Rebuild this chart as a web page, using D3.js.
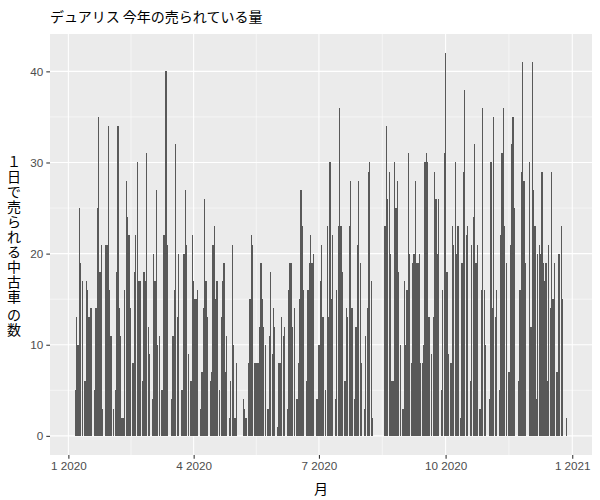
<!DOCTYPE html>
<html><head><meta charset="utf-8">
<script src="https://cdn.jsdelivr.net/npm/d3@7"></script>
<style>
body{margin:0;background:#fff}
svg text{font-family:"Liberation Sans",Arial,"Noto Sans CJK JP",sans-serif}
.cjk{font-family:"Noto Sans CJK JP","Noto Sans CJK SC",sans-serif}
</style>
</head><body>
<svg id="chart" width="600" height="500"></svg>
<script>
// ---- data (daily sales, one value per day; null = no bar) ----
const startDate = "2020-01-01";
const salesJanMar = [
  null,null,null,null,null,5,13,10,25,19,
  17,null,6,17,16,13,14,14,null,5,
  14,25,35,18,21,3,null,21,21,34,
  16,11,null,3,5,18,34,14,11,2,
  2,16,28,24,22,14,null,8,18,22,
  30,17,17,null,6,18,17,31,12,9,
  null,4,20,17,27,10,11,null,5,22,
  22,40,21,null,null,4,11,16,32,13,
  20,null,5,5,20,27,21,9,null,6,
  22];
const salesAprJun = [
  17,15,15,16,null,3,7,14,26,17,
  13,null,6,7,21,23,15,17,null,5,
  13,17,19,7,11,null,2,6,21,10,
  2,8,null,null,null,null,4,3,2,null,
  8,15,22,21,8,8,8,8,12,19,
  15,12,10,null,3,11,18,9,14,12,
  null,1,8,8,13,11,12,null,3,16,
  19,19,12,14,null,4,8,15,27,23,
  16,null,6,16,19,22,19,20,null,4,
  4];
const salesJulSep = [
  10,17,21,13,null,5,23,13,30,15,
  22,null,4,16,23,36,23,18,null,6,
  14,13,23,28,14,null,4,12,21,28,
  19,8,null,3,11,14,29,30,17,2,
  null,null,null,null,null,null,null,null,23,34,
  26,29,20,6,6,30,25,28,18,10,
  null,3,17,10,16,31,20,8,19,20,
  28,19,19,20,8,8,10,30,31,30,
  13,null,9,13,29,26,20,26,null,5,
  16,31];
const salesOctDec = [
  42,18,9,null,8,23,21,30,20,23,
  null,2,19,29,38,22,23,null,6,21,
  24,32,19,21,null,3,16,36,16,10,
  null,null,4,30,14,35,13,16,null,5,
  22,31,36,23,19,null,7,21,32,35,
  25,null,null,6,16,29,41,28,19,null,
  null,30,12,41,27,23,4,20,21,20,
  29,19,17,19,6,21,14,29,15,19,
  null,7,20,20,23,15,null,null,2,null,
  null,null];

const xTickDates  = ["2020-01-01","2020-04-01","2020-07-01","2020-10-01","2021-01-01"];
const xTickLabels = ["1 2020","4 2020","7 2020","10 2020","1 2021"];
const yTickValues = [0,10,20,30,40];
const titleText = "デュアリス 今年の売られている量";
const yTitleText = "１日で売られる中古車 の数";
const xTitleText = "月";

// ---- build ----
const allSales = [].concat(salesJanMar, salesAprJun, salesJulSep, salesOctDec);
if (allSales.length !== 366) throw new Error("length " + allSales.length);
const DAY = 86400000;
const t0 = Date.parse(startDate + "T00:00:00Z");
const data = allSales.map((v,i)=>({date:new Date(t0 + i*DAY), value:v})).filter(d=>d.value!==null);

const panel = {left:50, right:592, top:34, bottom:455};
const svg = d3.select("#chart");

// ggplot-like expansion (5%) of data range incl. bar width 0.9 day
const barW = 0.9*DAY;
const dMin = d3.min(data,d=>+d.date) - barW/2, dMax = d3.max(data,d=>+d.date) + barW/2;
const padX = (dMax-dMin)*0.05;
const x = d3.scaleUtc().domain([new Date(dMin-padX), new Date(dMax+padX)]).range([panel.left, panel.right]);
const yMaxV = d3.max(data,d=>d.value);
const y = d3.scaleLinear().domain([-yMaxV*0.05, yMaxV*1.05]).range([panel.bottom, panel.top]);

// panel background
svg.append("rect").attr("x",panel.left).attr("y",panel.top)
  .attr("width",panel.right-panel.left).attr("height",panel.bottom-panel.top).attr("fill","#EBEBEB");

// gridlines
const xTicks = xTickDates.map(s=>new Date(s+"T00:00:00Z"));
const xMinor = d3.pairs(xTicks).map(([a,b])=>new Date((+a + +b)/2));
const yMinor = d3.pairs(yTickValues).map(([a,b])=>(a+b)/2);
const g = svg.append("g");
yMinor.forEach(v=>g.append("line").attr("x1",panel.left).attr("x2",panel.right).attr("y1",y(v)).attr("y2",y(v)).attr("stroke","#fff").attr("stroke-width",0.53));
xMinor.forEach(v=>g.append("line").attr("y1",panel.top).attr("y2",panel.bottom).attr("x1",x(v)).attr("x2",x(v)).attr("stroke","#fff").attr("stroke-width",0.53));
yTickValues.forEach(v=>g.append("line").attr("x1",panel.left).attr("x2",panel.right).attr("y1",y(v)).attr("y2",y(v)).attr("stroke","#fff").attr("stroke-width",1.07));
xTicks.forEach(v=>g.append("line").attr("y1",panel.top).attr("y2",panel.bottom).attr("x1",x(v)).attr("x2",x(v)).attr("stroke","#fff").attr("stroke-width",1.07));

// bars
svg.append("g").attr("shape-rendering","crispEdges").selectAll("rect").data(data).join("rect")
  .attr("x",d=>x(new Date(+d.date - barW/2)))
  .attr("width",d=>Math.max(1, x(new Date(+d.date + barW/2)) - x(new Date(+d.date - barW/2))))
  .attr("y",d=>y(d.value))
  .attr("height",d=>y(0)-y(d.value))
  .attr("fill","#595959");

// axes
const xAxis = d3.axisBottom(x).tickValues(xTicks).tickFormat((d,i)=>xTickLabels[i]).tickSize(3.7).tickPadding(3);
const yAxis = d3.axisLeft(y).tickValues(yTickValues).tickSize(3.7).tickPadding(3);
const gx = svg.append("g").attr("transform",`translate(0,${panel.bottom})`).call(xAxis);
const gy = svg.append("g").attr("transform",`translate(${panel.left},0)`).call(yAxis);
[gx,gy].forEach(a=>{
  a.select(".domain").remove();
  a.selectAll(".tick line").attr("stroke","#333333").attr("stroke-width",1.07);
  a.selectAll(".tick text").attr("fill","#4D4D4D").style("font-size","11.7px")
   .style("font-family","'Liberation Sans',Arial,sans-serif");
});

// title
svg.append("text").attr("class","cjk").attr("x",panel.left).attr("y",22)
  .attr("fill","#000").style("font-size","14px").text(titleText);

// x title
svg.append("text").attr("class","cjk").attr("x",(panel.left+panel.right)/2).attr("y",494)
  .attr("text-anchor","middle").attr("fill","#000").style("font-size","14px").text(xTitleText);

// y title: upright stacked characters
const yt = svg.append("text").attr("class","cjk").attr("text-anchor","middle")
  .attr("fill","#000").style("font-size","14px");
let cy = 167;
Array.from(yTitleText).forEach(ch=>{
  if (ch === " ") { cy += 3; return; }
  yt.append("tspan").attr("x",14).attr("y",cy).text(ch);
  cy += 15;
});
</script>
</body></html>
